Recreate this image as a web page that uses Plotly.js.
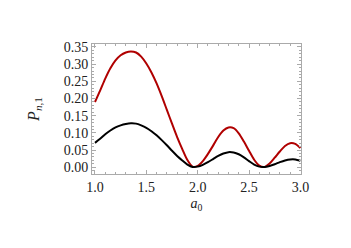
<!DOCTYPE html>
<html>
<head>
<meta charset="utf-8">
<script src="https://cdn.plot.ly/plotly-3.0.1.min.js"></script>
<style>
  html, body { margin: 0; padding: 0; background: #fff; }
  #chart { width: 351px; height: 248px; }
</style>
</head>
<body>
<div id="chart"></div>
<script>
// values
const a0 = [1.00, 1.05, 1.10, 1.15, 1.20, 1.25, 1.30, 1.35, 1.40, 1.45,
            1.50, 1.55, 1.60, 1.65, 1.70, 1.75, 1.80, 1.85, 1.90, 1.95,
            2.00, 2.05, 2.10, 2.15, 2.20, 2.25, 2.30, 2.35, 2.40, 2.45,
            2.50, 2.55, 2.60, 2.65, 2.70, 2.75, 2.80, 2.85, 2.90, 2.95, 3.00];

const pRed = [0.190, 0.223, 0.258, 0.288, 0.311, 0.326, 0.334, 0.337, 0.334, 0.322,
              0.302, 0.276, 0.244, 0.207, 0.167, 0.127, 0.088, 0.053, 0.021, 0.002,
              0.004, 0.018, 0.039, 0.063, 0.088, 0.107, 0.116, 0.114, 0.099, 0.075,
              0.048, 0.022, 0.005, 0.001, 0.011, 0.028, 0.046, 0.062, 0.070, 0.068, 0.056];

const pBlack = [0.071, 0.083, 0.096, 0.107, 0.116, 0.122, 0.126, 0.128, 0.127, 0.122,
                0.115, 0.105, 0.093, 0.079, 0.064, 0.048, 0.033, 0.020, 0.008, 0.001,
                0.002, 0.007, 0.015, 0.024, 0.033, 0.040, 0.044, 0.043, 0.038, 0.029,
                0.018, 0.008, 0.002, 0.001, 0.004, 0.009, 0.015, 0.020, 0.023, 0.023, 0.019];

const xTicks = [1.0, 1.5, 2.0, 2.5, 3.0];
const yTicks = [0.00, 0.05, 0.10, 0.15, 0.20, 0.25, 0.30, 0.35];

const font = { family: 'Liberation Serif, Times New Roman, serif', size: 14, color: '#222' };
const titleFont = { family: 'Liberation Serif, Times New Roman, serif', size: 16, color: '#222' };

const traceRed = {
  x: a0, y: pRed,
  mode: 'lines',
  line: { color: '#b00000', width: 2, shape: 'spline', smoothing: 0.8 },
  hoverinfo: 'skip'
};

const traceBlack = {
  x: a0, y: pBlack,
  mode: 'lines',
  line: { color: '#000000', width: 2, shape: 'spline', smoothing: 0.8 },
  hoverinfo: 'skip'
};

const axisCommon = {
  showline: true, mirror: 'ticks', linecolor: '#aaaaaa', linewidth: 1,
  ticks: 'inside', ticklen: 4, tickcolor: '#aaaaaa',
  showgrid: false, zeroline: false,
  tickfont: font
};

const layout = {
  width: 351, height: 248,
  margin: { l: 92, r: 50, t: 44, b: 74 },
  paper_bgcolor: '#fff', plot_bgcolor: '#fff',
  showlegend: false,
  font: font,
  xaxis: Object.assign({}, axisCommon, {
    range: [0.971, 3.006],
    tickvals: xTicks,
    ticktext: xTicks.map(v => v.toFixed(1)),
    minor: { ticks: 'inside', ticklen: 2, dtick: 0.1, tick0: 1.0, tickcolor: '#aaaaaa' },
    title: { text: '<i>a</i><sub>0</sub>', font: font, standoff: 4 }
  }),
  yaxis: Object.assign({}, axisCommon, {
    range: [-0.0195, 0.3587],
    tickvals: yTicks,
    ticktext: yTicks.map(v => v.toFixed(2)),
    minor: { ticks: 'inside', ticklen: 2, dtick: 0.01, tick0: 0, tickcolor: '#aaaaaa' },
    title: { text: '<i>P</i><sub><i>n</i>,1</sub>', font: titleFont, standoff: 20 }
  })
};

Plotly.newPlot('chart', [traceRed, traceBlack], layout, { displayModeBar: false, staticPlot: true });
</script>
</body>
</html>
